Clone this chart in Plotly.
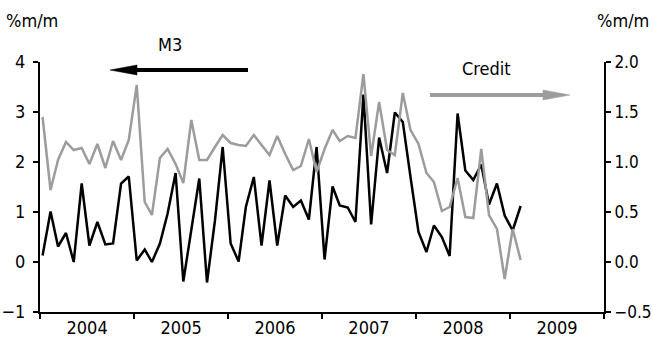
import pandas as pd
import plotly.graph_objects as go

# Monthly growth rates, Jan 2004 - Feb 2009
months = [f"{y}-{m:02d}" for y in range(2004, 2010) for m in range(1, 13)][:62]

m3_growth = [
    0.13, 1.01, 0.31, 0.58, 0.00, 1.57, 0.33, 0.80, 0.35, 0.37, 1.57, 1.71,
    0.03, 0.25, 0.00, 0.37, 0.97, 1.78, -0.39, 0.63, 1.67, -0.41, 0.83, 2.30,
    0.37, 0.01, 1.10, 1.70, 0.33, 1.63, 0.33, 1.33, 1.10, 1.23, 0.85, 2.30,
    0.05, 1.51, 1.13, 1.09, 0.80, 3.35, 0.75, 2.49, 1.78, 2.99, 2.80, 1.70,
    0.60, 0.20, 0.73, 0.50, 0.12, 2.97, 1.83, 1.64, 1.95, 1.15, 1.57, 0.93,
    0.63, 1.12,
]

credit_growth = [
    1.45, 0.72, 1.02, 1.20, 1.12, 1.14, 0.98, 1.18, 0.94, 1.21, 1.02, 1.22,
    1.77, 0.60, 0.47, 1.04, 1.13, 0.98, 0.79, 1.42, 1.02, 1.02, 1.15, 1.27,
    1.19, 1.17, 1.16, 1.27, 1.17, 1.07, 1.26, 1.08, 0.92, 0.96, 1.23, 0.90,
    1.13, 1.32, 1.21, 1.26, 1.24, 1.88, 1.06, 1.60, 1.12, 1.07, 1.69, 1.32,
    1.18, 0.89, 0.80, 0.51, 0.55, 0.84, 0.45, 0.44, 1.13, 0.47, 0.33, -0.17,
    0.33, 0.02,
]

left_ticks = [-1, 0, 1, 2, 3, 4]
right_ticks = [-0.5, 0.0, 0.5, 1.0, 1.5, 2.0]

# each observation sits a little way into its month
x_dates = pd.to_datetime(months) + pd.Timedelta(days=10)

FONT = "Liberation Sans Narrow, Arial Narrow, DejaVu Sans Condensed, sans-serif"
W, H = 652, 339
ML, MR, MT, MB = 40, 48, 62, 27
PW, PH = W - ML - MR, H - MT - MB


def px(x):
    return (x - ML) / PW


def py(y):
    return (H - MB - y) / PH


fig = go.Figure()
fig.add_trace(go.Scatter(
    x=x_dates, y=credit_growth, mode="lines", name="Credit",
    line=dict(color="#9c9c9c", width=2.5), yaxis="y2",
))
fig.add_trace(go.Scatter(
    x=x_dates, y=m3_growth, mode="lines", name="M3",
    line=dict(color="#000000", width=2.5),
))

tick_font = dict(family=FONT, size=18, color="black")
axis_common = dict(
    showline=True, linecolor="black", linewidth=2,
    ticks="outside", ticklen=5, tickwidth=2, tickcolor="black",
    showgrid=False, zeroline=False, automargin=False,
)

fig.update_layout(
    width=W, height=H,
    margin=dict(l=ML, r=MR, t=MT, b=MB),
    paper_bgcolor="white", plot_bgcolor="white",
    showlegend=False,
    xaxis=dict(
        type="date", range=["2004-01-01", "2010-01-01"],
        tick0="2004-01-01", dtick="M12", tickformat="%Y",
        ticklabelmode="period", ticklabelstandoff=-7,
        tickfont=tick_font, **axis_common,
    ),
    yaxis=dict(range=[-1, 4], tickvals=left_ticks, ticklabelstandoff=4,
               tickfont=tick_font, **axis_common),
    yaxis2=dict(
        range=[-0.5, 2.0], tickvals=right_ticks, tickformat=".1f",
        overlaying="y", side="right", ticklabelstandoff=0,
        tickfont=dict(family=FONT, size=17, color="black"), **axis_common,
    ),
)

label_font = dict(family=FONT, size=18, color="black")
fig.add_annotation(text="%m/m", xref="paper", yref="paper", x=px(4), y=py(20),
                   xanchor="left", yanchor="middle", showarrow=False, font=label_font)
fig.add_annotation(text="%m/m", xref="paper", yref="paper", x=px(651), y=py(20),
                   xanchor="right", yanchor="middle", showarrow=False, font=label_font)
fig.add_annotation(text="M3", xref="paper", yref="paper", x=px(170), y=py(45),
                   xanchor="center", yanchor="middle", showarrow=False, font=label_font)
fig.add_annotation(text="Credit", xref="paper", yref="paper", x=px(486), y=py(68),
                   xanchor="center", yanchor="middle", showarrow=False, font=label_font)

# direction arrows: M3 reads off the left axis, Credit off the right
fig.add_shape(type="line", xref="paper", yref="paper",
              x0=px(248), y0=py(70), x1=px(132), y1=py(70),
              line=dict(color="black", width=4))
fig.add_shape(type="path", xref="paper", yref="paper",
              path=f"M{px(110)},{py(70)} L{px(137)},{py(65)} L{px(137)},{py(75)} Z",
              fillcolor="black", line=dict(color="black", width=0.5))
fig.add_shape(type="line", xref="paper", yref="paper",
              x0=px(430), y0=py(95), x1=px(548), y1=py(95),
              line=dict(color="#9c9c9c", width=4))
fig.add_shape(type="path", xref="paper", yref="paper",
              path=f"M{px(570)},{py(95)} L{px(543)},{py(90)} L{px(543)},{py(100)} Z",
              fillcolor="#9c9c9c", line=dict(color="#9c9c9c", width=0.5))

fig.write_html("out.html")
